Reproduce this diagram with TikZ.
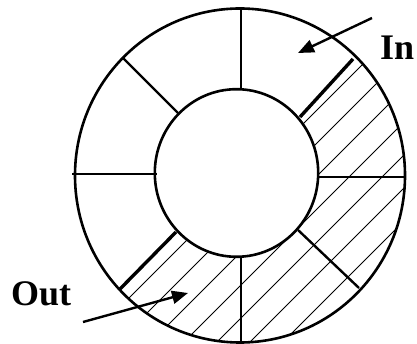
\documentclass[tikz,border=0pt]{standalone}
\usepackage{fontspec}
\setmainfont{Liberation Serif}
\usetikzlibrary{arrows.meta}
\begin{document}
\begin{tikzpicture}[x=1pt,y=-1pt,
  ring/.style={line width=2.6pt},
  spoke/.style={line width=2.4pt},
  thickspoke/.style={line width=3.4pt},
  hatch/.style={line width=0.8pt},
  pointer/.style={line width=2.4pt,-{Triangle[length=16pt,width=13pt]}},
  lbl/.style={font=\bfseries\fontsize{36}{40}\selectfont,inner sep=0pt,anchor=base west}]
\useasboundingbox (0,0) rectangle (417,344);
\coordinate (C) at (240,175.5);
\coordinate (c) at (236.5,173);
% hatching
\begin{scope}
  \clip (586,-171) -- (-113,519) -- (700,700) -- cycle;
  \clip (C) ellipse [x radius=165, y radius=167];
  \foreach \k in {-6,...,8} {
    \pgfmathsetmacro{\cc}{526+33*\k}
    \draw[hatch] (\cc-400,400) -- (\cc+50,-50);
  }
\end{scope}
\fill[white] (c) ellipse [x radius=81.7, y radius=83.8];
% spokes
\draw[spoke] (241,9) -- (241,88);
\draw[spoke] (241,256) -- (241,343);
\draw[spoke] (72,174) -- (157,174);
\draw[spoke] (318,177) -- (405,177);
\draw[spoke] (123,58) -- (178,113);
\draw[spoke] (298,230) -- (359,288);
\draw[thickspoke] (353,59) -- (300,117);
\draw[thickspoke] (120,289) -- (176,232);
% rings
\draw[ring] (C) ellipse [x radius=165, y radius=167];
\draw[ring] (c) ellipse [x radius=81.7, y radius=83.8];
% labels and arrows
\node[lbl] (in) at (380,60) {In};
\node[lbl] (out) at (11,305) {Out};
\coordinate (inS) at (372,18);
\coordinate (inT) at (298,53);
\coordinate (outS) at (83,322);
\coordinate (outT) at (188,293);
\draw[pointer] (inS) -- (inT);
\draw[pointer] (outS) -- (outT);
\end{tikzpicture}
\end{document}
